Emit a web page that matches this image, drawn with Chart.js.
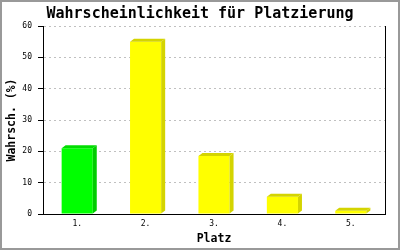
<!DOCTYPE html>
<html>
<head>
<meta charset="utf-8">
<script src="https://cdn.jsdelivr.net/npm/chart.js@4"></script>
<style>
html,body{margin:0;padding:0;background:#fff;}
canvas{display:block;}
</style>
</head>
<body>
<canvas id="c" width="400" height="250"></canvas>
<script>
const categories = ["1.", "2.", "3.", "4.", "5."];
const values = [21, 55, 18.5, 5.5, 1];
const frontColors = ["#00ff00", "#ffff00", "#ffff00", "#ffff00", "#ffff00"];
const topColors = ["#00dd00", "#d4d400", "#d4d400", "#d4d400", "#d4d400"];
const sideColors = ["#00cc00", "#d4d400", "#d4d400", "#d4d400", "#d4d400"];
const yTicks = [0, 10, 20, 30, 40, 50, 60];

const MONO = "'DejaVu Sans Mono', monospace";
const DX = 4, DY = 3;

const depthPlugin = {
  id: 'depth',
  afterDatasetsDraw(chart) {
    const ctx = chart.ctx;
    const meta = chart.getDatasetMeta(0);
    meta.data.forEach((bar, i) => {
      const p = bar.getProps(['x', 'y', 'base', 'width'], true);
      const x0 = p.x - p.width / 2, x1 = p.x + p.width / 2;
      const y = p.y, b = p.base;
      ctx.save();
      ctx.fillStyle = topColors[i];
      ctx.beginPath();
      ctx.moveTo(x0, y); ctx.lineTo(x0 + DX, y - DY); ctx.lineTo(x1 + DX, y - DY); ctx.lineTo(x1, y);
      ctx.closePath(); ctx.fill();
      ctx.fillStyle = sideColors[i];
      ctx.beginPath();
      ctx.moveTo(x1, y); ctx.lineTo(x1 + DX, y - DY); ctx.lineTo(x1 + DX, b - DY); ctx.lineTo(x1, b);
      ctx.closePath(); ctx.fill();
      ctx.restore();
    });
  },
  afterDraw(chart) {
    const ctx = chart.ctx;
    ctx.save();
    ctx.strokeStyle = '#999999'; ctx.lineWidth = 2;
    ctx.strokeRect(1, 1, chart.width - 2, chart.height - 2);
    ctx.restore();
  }
};

new Chart(document.getElementById('c'), {
  type: 'bar',
  data: {
    labels: categories,
    datasets: [{
      data: values,
      backgroundColor: frontColors,
      borderWidth: 0,
      barPercentage: 0.455,
      categoryPercentage: 1.0
    }]
  },
  options: {
    responsive: false,
    devicePixelRatio: 1,
    animation: false,
    layout: { padding: 0 },
    plugins: {
      legend: { display: false },
      tooltip: { enabled: false },
      title: {
        display: true,
        text: 'Wahrscheinlichkeit für Platzierung',
        color: '#000',
        font: { family: MONO, size: 15, weight: 'bold', lineHeight: 1.2 },
        padding: { top: 5, bottom: 3 }
      }
    },
    scales: {
      x: {
        afterFit(s) { s.height = 36; },
        grid: { display: false, drawTicks: false, drawOnChartArea: false },
        border: { display: true, color: '#000', width: 1 },
        ticks: { color: '#000', font: { family: MONO, size: 8 }, padding: 5 },
        title: {
          display: true, text: 'Platz', color: '#000',
          font: { family: MONO, size: 11.5, weight: 'bold', lineHeight: 1.2 },
          padding: { top: 0, bottom: 4 }
        }
      },
      y: {
        min: 0, max: 60,
        afterFit(s) { s.width = 43; },
        afterBuildTicks(s) { s.ticks = yTicks.map(v => ({ value: v })); },
        grid: {
          color: (c) => (c.tick && c.tick.value === 0) ? 'rgba(0,0,0,0)' : '#c0c0c0',
          tickColor: '#000', tickLength: 5, drawTicks: true, lineWidth: 1
        },
        border: { display: true, color: '#000', width: 1, dash: [2, 3] },
        ticks: { color: '#000', font: { family: MONO, size: 8 }, padding: 6 },
        title: {
          display: true, text: 'Wahrsch. (%)', color: '#000',
          font: { family: MONO, size: 11.5, weight: 'bold', lineHeight: 1.2 },
          padding: { top: 5, bottom: 0 }
        }
      },
      yRight: {
        position: 'right',
        min: 0, max: 60,
        afterFit(s) { s.width = 15; },
        grid: { display: false, drawTicks: false, drawOnChartArea: false },
        border: { display: true, color: '#000', width: 1 },
        ticks: { display: false }
      }
    }
  },
  plugins: [depthPlugin]
});
</script>
</body>
</html>
